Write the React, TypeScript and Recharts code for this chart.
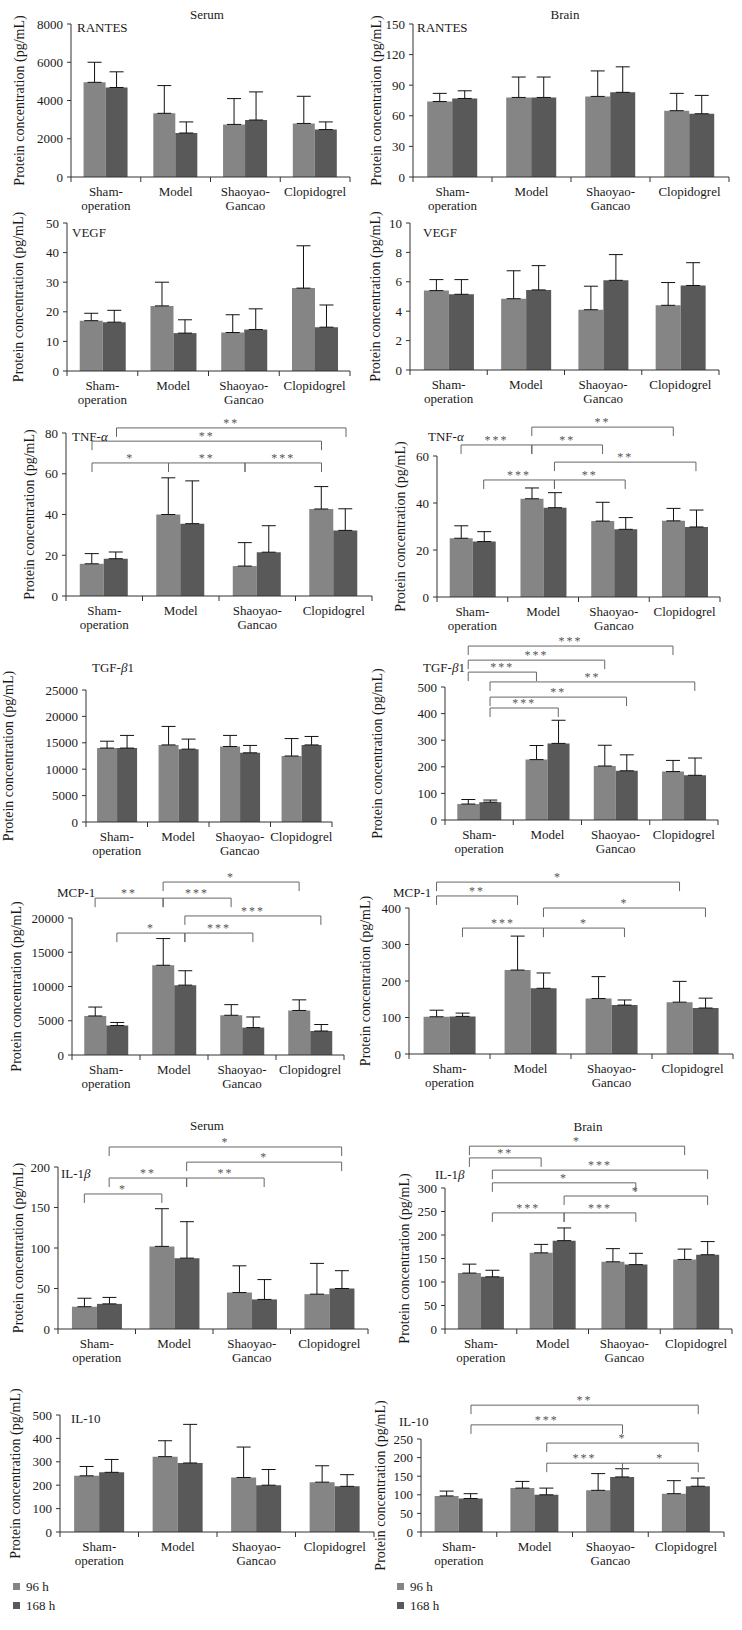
import React from "react";
import { Bar, BarChart, ErrorBar, ReferenceLine, XAxis, YAxis } from "recharts";

const FONT = '"Liberation Serif", "DejaVu Serif", serif';
const LIGHT = "#858585";
const DARK = "#595959";
const INK = "#1a1a1a";
const BRACKET = "#666666";

const categories = ["Sham-operation", "Model", "Shaoyao-Gancao", "Clopidogrel"];
const seriesNames = ["96 h", "168 h"];

// bar layout (fraction of a category band); brackets use the same numbers
const GAP = 0.18;
const BAR_CENTER = [GAP + (1 - 2 * GAP) / 4, 1 - GAP - (1 - 2 * GAP) / 4];

// ---- values: mean and upper error, 96 h and 168 h ----
const rantesSerum96 = [4950, 3330, 2750, 2800];
const rantesSerum96Err = [1050, 1450, 1350, 1420];
const rantesSerum168 = [4680, 2300, 2980, 2480];
const rantesSerum168Err = [820, 580, 1470, 400];

const rantesBrain96 = [74, 78, 79, 65];
const rantesBrain96Err = [8, 20, 25, 17];
const rantesBrain168 = [77, 78, 83, 62];
const rantesBrain168Err = [7.5, 20, 25, 18];

const vegfSerum96 = [17, 22, 13, 28];
const vegfSerum96Err = [2.5, 8, 6, 14.3];
const vegfSerum168 = [16.5, 12.8, 14, 14.8];
const vegfSerum168Err = [4, 4.5, 7, 7.5];

const vegfBrain96 = [5.4, 4.85, 4.1, 4.4];
const vegfBrain96Err = [0.75, 1.9, 1.6, 1.55];
const vegfBrain168 = [5.15, 5.45, 6.1, 5.75];
const vegfBrain168Err = [1.0, 1.65, 1.75, 1.55];

const tnfSerum96 = [15.8, 40, 14.7, 42.7];
const tnfSerum96Err = [5, 18, 11.5, 11];
const tnfSerum168 = [18.3, 35.5, 21.5, 32.2];
const tnfSerum168Err = [3.3, 21, 13, 10.6];

const tnfBrain96 = [25, 41.8, 32.3, 32.4];
const tnfBrain96Err = [5.3, 4.6, 8, 5.3];
const tnfBrain168 = [23.6, 38, 28.8, 29.8];
const tnfBrain168Err = [4.2, 6.4, 5, 7.2];

const tgfSerum96 = [14000, 14600, 14300, 12500];
const tgfSerum96Err = [1300, 3500, 2100, 3300];
const tgfSerum168 = [14000, 13800, 13100, 14600];
const tgfSerum168Err = [2400, 1900, 1400, 1600];

const tgfBrain96 = [60, 227, 203, 182];
const tgfBrain96Err = [17, 53, 78, 42];
const tgfBrain168 = [67, 288, 185, 168];
const tgfBrain168Err = [8, 87, 60, 65];

const mcpSerum96 = [5700, 13100, 5800, 6500];
const mcpSerum96Err = [1300, 3900, 1550, 1550];
const mcpSerum168 = [4300, 10200, 4000, 3500];
const mcpSerum168Err = [450, 2100, 1550, 950];

const mcpBrain96 = [102, 230, 152, 142];
const mcpBrain96Err = [18, 93, 60, 57];
const mcpBrain168 = [103, 180, 134, 126];
const mcpBrain168Err = [9, 42, 14, 27];

const il1Serum96 = [27.5, 102, 45, 43];
const il1Serum96Err = [10.5, 46.5, 33, 38];
const il1Serum168 = [31, 87.5, 36.5, 50];
const il1Serum168Err = [8, 45, 24.5, 22];

const il1Brain96 = [119, 162, 143, 148];
const il1Brain96Err = [19, 18, 28, 22];
const il1Brain168 = [111, 188, 137, 158];
const il1Brain168Err = [14, 27, 24, 28];

const il10Serum96 = [240, 322, 233, 213];
const il10Serum96Err = [40, 68, 130, 70];
const il10Serum168 = [255, 295, 200, 195];
const il10Serum168Err = [55, 165, 67, 50];

const il10Brain96 = [97, 118, 112, 103];
const il10Brain96Err = [13, 18, 45, 35];
const il10Brain168 = [90, 100, 148, 123];
const il10Brain168Err = [13, 18, 22, 22];

// ---- y ticks ----
const ticksRantesSerum = [0, 2000, 4000, 6000, 8000];
const ticksRantesBrain = [0, 30, 60, 90, 120, 150];
const ticksVegfSerum = [0, 10, 20, 30, 40, 50];
const ticksVegfBrain = [0, 2, 4, 6, 8, 10];
const ticksTnfSerum = [0, 20, 40, 60, 80];
const ticksTnfBrain = [0, 20, 40, 60];
const ticksTgfSerum = [0, 5000, 10000, 15000, 20000, 25000];
const ticksTgfBrain = [0, 100, 200, 300, 400, 500];
const ticksMcpSerum = [0, 5000, 10000, 15000, 20000];
const ticksMcpBrain = [0, 100, 200, 300, 400];
const ticksIl1Serum = [0, 50, 100, 150, 200];
const ticksIl1Brain = [0, 50, 100, 150, 200, 250, 300];
const ticksIl10Serum = [0, 100, 200, 300, 400, 500];
const ticksIl10Brain = [0, 50, 100, 150, 200, 250];

// ---- significance brackets: [group, bar] to [group, bar], height in data units ----
type Bracket = { from: [number, number]; to: [number, number]; level: number; stars: string };

const tnfSerumSig: Bracket[] = [
  { from: [0, 1], to: [3, 1], level: 82.5, stars: "**" },
  { from: [0, 0], to: [3, 0], level: 76, stars: "**" },
  { from: [0, 0], to: [1, 0], level: 65.3, stars: "*" },
  { from: [1, 0], to: [2, 0], level: 65.3, stars: "**" },
  { from: [2, 0], to: [3, 0], level: 65.3, stars: "***" },
];
const tnfBrainSig: Bracket[] = [
  { from: [1, 0], to: [3, 0], level: 72.3, stars: "**" },
  { from: [0, 0], to: [1, 0], level: 64.7, stars: "***" },
  { from: [1, 0], to: [2, 0], level: 64.7, stars: "**" },
  { from: [1, 1], to: [3, 1], level: 57.4, stars: "**" },
  { from: [0, 1], to: [1, 1], level: 49.8, stars: "***" },
  { from: [1, 1], to: [2, 1], level: 49.8, stars: "**" },
];
const tgfBrainSig: Bracket[] = [
  { from: [0, 0], to: [3, 0], level: 654, stars: "***" },
  { from: [0, 0], to: [2, 0], level: 601, stars: "***" },
  { from: [0, 0], to: [1, 0], level: 556, stars: "***" },
  { from: [0, 1], to: [3, 1], level: 519, stars: "**" },
  { from: [0, 1], to: [2, 1], level: 462, stars: "**" },
  { from: [0, 1], to: [1, 1], level: 421, stars: "***" },
];
const mcpSerumSig: Bracket[] = [
  { from: [1, 0], to: [3, 0], level: 25250, stars: "*" },
  { from: [0, 0], to: [1, 0], level: 22900, stars: "**" },
  { from: [1, 0], to: [2, 0], level: 22900, stars: "***" },
  { from: [1, 1], to: [3, 1], level: 20300, stars: "***" },
  { from: [0, 1], to: [1, 1], level: 17800, stars: "*" },
  { from: [1, 1], to: [2, 1], level: 17800, stars: "***" },
];
const mcpBrainSig: Bracket[] = [
  { from: [0, 0], to: [3, 0], level: 471, stars: "*" },
  { from: [0, 0], to: [1, 0], level: 433, stars: "**" },
  { from: [1, 1], to: [3, 1], level: 400, stars: "*" },
  { from: [0, 1], to: [1, 1], level: 345, stars: "***" },
  { from: [1, 1], to: [2, 1], level: 345, stars: "*" },
];
const il1SerumSig: Bracket[] = [
  { from: [0, 1], to: [3, 1], level: 224.7, stars: "*" },
  { from: [1, 1], to: [3, 1], level: 206, stars: "*" },
  { from: [0, 1], to: [1, 1], level: 186.4, stars: "**" },
  { from: [1, 1], to: [2, 1], level: 186.4, stars: "**" },
  { from: [0, 0], to: [1, 0], level: 166.7, stars: "*" },
];
const il1BrainSig: Bracket[] = [
  { from: [0, 0], to: [3, 0], level: 389, stars: "*" },
  { from: [0, 0], to: [1, 0], level: 364, stars: "**" },
  { from: [0, 1], to: [3, 1], level: 338, stars: "***" },
  { from: [0, 1], to: [2, 1], level: 311, stars: "*" },
  { from: [1, 1], to: [3, 1], level: 283, stars: "*" },
  { from: [0, 1], to: [1, 1], level: 247, stars: "***" },
  { from: [1, 1], to: [2, 1], level: 247, stars: "***" },
];
const il10BrainSig: Bracket[] = [
  { from: [0, 1], to: [3, 1], level: 341, stars: "**" },
  { from: [0, 1], to: [2, 1], level: 288, stars: "***" },
  { from: [1, 1], to: [3, 1], level: 239, stars: "*" },
  { from: [1, 1], to: [2, 1], level: 185, stars: "***" },
  { from: [2, 1], to: [3, 1], level: 185, stars: "*" },
];

type PanelCfg = {
  id: string;
  v96: number[];
  e96: number[];
  v168: number[];
  e168: number[];
  ticks: number[];
  sig: Bracket[];
  // plot rectangle on the page
  x0: number;
  x1: number;
  yTop: number;
  yZero: number;
  labelDx: number;
};

const panels: PanelCfg[] = [
  { id: "rs", v96: rantesSerum96, e96: rantesSerum96Err, v168: rantesSerum168, e168: rantesSerum168Err, ticks: ticksRantesSerum, sig: [], x0: 71, x1: 350, yTop: 24, yZero: 177, labelDx: 52 },
  { id: "rb", v96: rantesBrain96, e96: rantesBrain96Err, v168: rantesBrain168, e168: rantesBrain168Err, ticks: ticksRantesBrain, sig: [], x0: 413, x1: 729, yTop: 24, yZero: 177, labelDx: 37 },
  { id: "vs", v96: vegfSerum96, e96: vegfSerum96Err, v168: vegfSerum168, e168: vegfSerum168Err, ticks: ticksVegfSerum, sig: [], x0: 67, x1: 350, yTop: 223, yZero: 371, labelDx: 49 },
  { id: "vb", v96: vegfBrain96, e96: vegfBrain96Err, v168: vegfBrain168, e168: vegfBrain168Err, ticks: ticksVegfBrain, sig: [], x0: 410, x1: 719, yTop: 223, yZero: 370, labelDx: 35 },
  { id: "ts", v96: tnfSerum96, e96: tnfSerum96Err, v168: tnfSerum168, e168: tnfSerum168Err, ticks: ticksTnfSerum, sig: tnfSerumSig, x0: 66, x1: 372, yTop: 433, yZero: 596, labelDx: 37 },
  { id: "tb", v96: tnfBrain96, e96: tnfBrain96Err, v168: tnfBrain168, e168: tnfBrain168Err, ticks: ticksTnfBrain, sig: tnfBrainSig, x0: 437, x1: 720, yTop: 456, yZero: 597, labelDx: 37 },
  { id: "gs", v96: tgfSerum96, e96: tgfSerum96Err, v168: tgfSerum168, e168: tgfSerum168Err, ticks: ticksTgfSerum, sig: [], x0: 86, x1: 332, yTop: 690, yZero: 822, labelDx: 78 },
  { id: "gb", v96: tgfBrain96, e96: tgfBrain96Err, v168: tgfBrain168, e168: tgfBrain168Err, ticks: ticksTgfBrain, sig: tgfBrainSig, x0: 445, x1: 718, yTop: 687, yZero: 820, labelDx: 68 },
  { id: "ms", v96: mcpSerum96, e96: mcpSerum96Err, v168: mcpSerum168, e168: mcpSerum168Err, ticks: ticksMcpSerum, sig: mcpSerumSig, x0: 72, x1: 344, yTop: 918, yZero: 1055, labelDx: 56 },
  { id: "mb", v96: mcpBrain96, e96: mcpBrain96Err, v168: mcpBrain168, e168: mcpBrain168Err, ticks: ticksMcpBrain, sig: mcpBrainSig, x0: 409, x1: 733, yTop: 908, yZero: 1054, labelDx: 44 },
  { id: "is", v96: il1Serum96, e96: il1Serum96Err, v168: il1Serum168, e168: il1Serum168Err, ticks: ticksIl1Serum, sig: il1SerumSig, x0: 58, x1: 368, yTop: 1167, yZero: 1329, labelDx: 40 },
  { id: "ib", v96: il1Brain96, e96: il1Brain96Err, v168: il1Brain168, e168: il1Brain168Err, ticks: ticksIl1Brain, sig: il1BrainSig, x0: 445, x1: 732, yTop: 1188, yZero: 1329, labelDx: 41 },
  { id: "ls", v96: il10Serum96, e96: il10Serum96Err, v168: il10Serum168, e168: il10Serum168Err, ticks: ticksIl10Serum, sig: [], x0: 60, x1: 374, yTop: 1415, yZero: 1532, labelDx: 45 },
  { id: "lb", v96: il10Brain96, e96: il10Brain96Err, v168: il10Brain168, e168: il10Brain168Err, ticks: ticksIl10Brain, sig: il10BrainSig, x0: 421, x1: 724, yTop: 1439, yZero: 1532, labelDx: 41 },
];

const YW = 90; // y axis area width
const MT = 90; // room above plot for brackets
const MR = 10;
const XH = 40; // room below plot for category labels
const DROP_PX = 9;
const TICK_PX = 5;
const BOUNDS = [0, 1, 2, 3, 4];
const CENTERS = [0.5, 1.5, 2.5, 3.5];

function CategoryTick(props: any) {
  const { x, y, payload } = props;
  const label: string = categories[Math.floor(payload.value)] ?? "";
  const cut = label.indexOf("-");
  const lines = cut > 0 ? [label.slice(0, cut + 1), label.slice(cut + 1)] : [label];
  return (
    <text x={x} y={y} textAnchor="middle" fontSize={13} fill={INK} fontFamily={FONT}>
      {lines.map((l, i) => (
        <tspan key={i} x={x} dy={i === 0 ? 17 : 14}>
          {l}
        </tspan>
      ))}
    </text>
  );
}

function Panel({ p }: { p: PanelCfg }) {
  const plotH = p.yZero - p.yTop;
  const max = p.ticks[p.ticks.length - 1];
  const W = YW + (p.x1 - p.x0) + MR;
  const H = MT + plotH + XH;
  const drop = (DROP_PX / plotH) * max;
  const tickDrop = (TICK_PX / plotH) * max;
  const rows = categories.map((name, i) => ({
    x: i + 0.5,
    name,
    a: p.v96[i],
    b: p.v168[i],
    ea: [0, p.e96[i]],
    eb: [0, p.e168[i]],
  }));
  const lineProps = { stroke: BRACKET, strokeWidth: 1, ifOverflow: "visible" as const };
  return (
    <div style={{ position: "absolute", left: p.x0 - YW, top: p.yTop - MT }}>
      <BarChart
        width={W}
        height={H}
        data={rows}
        margin={{ top: MT, right: MR, left: 0, bottom: 0 }}
        barCategoryGap={`${GAP * 100}%`}
        barGap={0}
        style={{ fontFamily: FONT }}
      >
        <XAxis
          type="number"
          dataKey="x"
          domain={[0, 4]}
          ticks={CENTERS}
          interval={0}
          allowDataOverflow
          height={XH}
          tickLine={false}
          tickSize={0}
          tick={CategoryTick}
          stroke="#333"
        />
        <YAxis
          width={YW}
          domain={[0, max]}
          ticks={p.ticks}
          interval={0}
          allowDataOverflow
          tickSize={4}
          tickMargin={4}
          stroke="#333"
          tick={{ fontSize: 13, fill: INK, fontFamily: FONT }}
          label={{
            value: "Protein concentration (pg/mL)",
            angle: -90,
            position: "insideLeft",
            offset: YW - p.labelDx,
            style: { textAnchor: "middle", fontSize: 14, fill: INK, fontFamily: FONT },
          }}
        />
        <Bar dataKey="a" name={seriesNames[0]} fill={LIGHT} isAnimationActive={false}>
          <ErrorBar dataKey="ea" width={7} stroke="#111" strokeWidth={1} direction="y" />
        </Bar>
        <Bar dataKey="b" name={seriesNames[1]} fill={DARK} isAnimationActive={false}>
          <ErrorBar dataKey="eb" width={7} stroke="#111" strokeWidth={1} direction="y" />
        </Bar>
        {BOUNDS.map((v) => (
          <ReferenceLine key={`t${v}`} stroke="#333" ifOverflow="visible" segment={[{ x: v, y: 0 }, { x: v, y: -tickDrop }]} />
        ))}
        {p.sig.map((s, k) => {
          const xa = s.from[0] + BAR_CENTER[s.from[1]];
          const xb = s.to[0] + BAR_CENTER[s.to[1]];
          return [
            <ReferenceLine
              key={`h${k}`}
              {...lineProps}
              segment={[{ x: xa, y: s.level }, { x: xb, y: s.level }]}
              label={{ value: s.stars, position: "top", offset: 1, fill: "#555", fontSize: 12, fontFamily: FONT, letterSpacing: 2 }}
            />,
            <ReferenceLine key={`l${k}`} {...lineProps} segment={[{ x: xa, y: s.level }, { x: xa, y: s.level - drop }]} />,
            <ReferenceLine key={`r${k}`} {...lineProps} segment={[{ x: xb, y: s.level }, { x: xb, y: s.level - drop }]} />,
          ];
        })}
      </BarChart>
    </div>
  );
}

function Txt({ x, y, children, center }: { x: number; y: number; children: React.ReactNode; center?: boolean }) {
  return (
    <div
      style={{
        position: "absolute",
        left: x,
        top: y,
        transform: center ? "translate(-50%, -50%)" : "translateY(-50%)",
        whiteSpace: "nowrap",
        fontSize: 13,
        lineHeight: 1,
      }}
    >
      {children}
    </div>
  );
}

function LegendBox({ x, y }: { x: number; y: number }) {
  const colors = [LIGHT, DARK];
  return (
    <div style={{ position: "absolute", left: x, top: y, fontSize: 13 }}>
      {seriesNames.map((n, i) => (
        <div key={n} style={{ display: "flex", alignItems: "center", height: 19 }}>
          <span style={{ display: "inline-block", width: 7, height: 7, background: colors[i], marginRight: 6 }} />
          {n}
        </div>
      ))}
    </div>
  );
}

export default function App() {
  return (
    <div
      style={{
        position: "absolute",
        left: 0,
        top: 0,
        width: 742,
        height: 1630,
        overflow: "hidden",
        background: "#fff",
        fontFamily: FONT,
        color: INK,
      }}
    >
      {panels.map((p) => (
        <Panel key={p.id} p={p} />
      ))}
      <Txt x={207} y={14} center>Serum</Txt>
      <Txt x={565} y={14} center>Brain</Txt>
      <Txt x={207} y={1125} center>Serum</Txt>
      <Txt x={588} y={1126} center>Brain</Txt>

      <Txt x={77} y={27}>RANTES</Txt>
      <Txt x={417} y={27}>RANTES</Txt>
      <Txt x={72} y={232}>VEGF</Txt>
      <Txt x={423} y={232}>VEGF</Txt>
      <Txt x={72} y={436}>TNF-<i>α</i></Txt>
      <Txt x={428} y={436}>TNF-<i>α</i></Txt>
      <Txt x={92} y={667}>TGF-<i>β</i>1</Txt>
      <Txt x={423} y={667}>TGF-<i>β</i>1</Txt>
      <Txt x={57} y={892}>MCP-1</Txt>
      <Txt x={393} y={892}>MCP-1</Txt>
      <Txt x={61} y={1173}>IL-1<i>β</i></Txt>
      <Txt x={435} y={1174}>IL-1<i>β</i></Txt>
      <Txt x={71} y={1418}>IL-10</Txt>
      <Txt x={399} y={1421}>IL-10</Txt>

      <LegendBox x={13} y={1577} />
      <LegendBox x={397} y={1577} />
    </div>
  );
}
